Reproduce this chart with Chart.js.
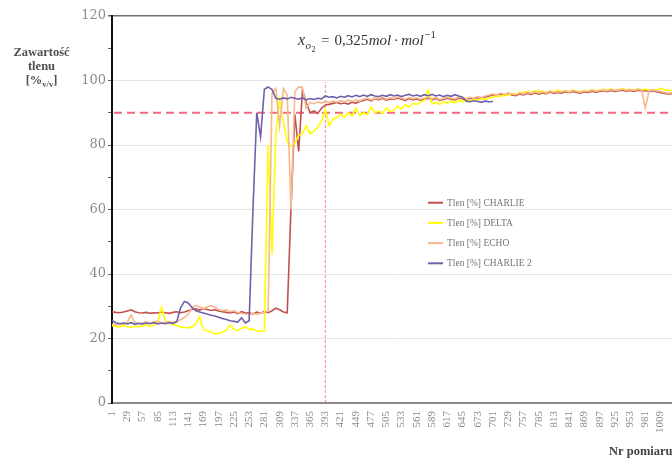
<!DOCTYPE html>
<html>
<head>
<meta charset="utf-8">
<script src="https://cdn.jsdelivr.net/npm/chart.js@4/dist/chart.umd.min.js"></script>
<style>
  html, body { margin: 0; padding: 0; background: #fff; overflow: hidden; }
  canvas { display: block; }
</style>
</head>
<body>
<canvas id="chart" width="672" height="458"></canvas>
<script>
// Oxygen content [%] logged every 7th measurement
const SAMPLE_STEP = 7;

const charlie = [
  28.3, 28.1, 28.0, 28.2, 28.5, 28.9, 28.3, 28.0, 27.9, 28.1, 27.8, 28.0,
  27.9, 28.2, 28.0, 27.8, 28.1, 28.3, 28.0, 28.2, 28.6, 29.0, 29.2, 28.8,
  29.3, 29.0, 28.7, 28.9, 28.5, 28.3, 28.1, 27.9, 28.2, 27.7, 28.3, 27.9,
  28.0, 27.6, 28.2, 27.8, 28.4, 28.0, 28.6, 29.4, 28.9, 28.2, 28.0, 61.0,
  89.5, 78.0, 97.0, 93.0, 90.0, 90.6, 89.8, 91.4, 92.4, 92.6, 92.9, 93.2,
  92.8, 93.0, 92.7, 93.3, 93.0, 93.5, 93.8, 94.2, 93.7, 94.4, 94.0, 94.5,
  93.9, 94.3, 94.1, 94.6, 94.2, 93.8, 94.4, 94.0, 94.3, 93.9, 94.2, 94.5,
  94.0, 94.4, 93.8, 94.1, 94.5, 94.2, 94.0, 94.6, 94.3, 94.1, 94.5, 94.2,
  94.7, 94.4, 94.9, 95.2, 95.6, 95.2, 95.8, 95.4, 95.9, 95.5, 95.3, 95.8,
  95.5, 96.0, 95.7, 96.2, 95.8, 96.1, 95.9, 96.4, 96.0, 96.3, 96.1, 96.5,
  96.2, 96.6, 96.3, 96.1, 96.5, 96.3, 96.7, 96.4, 96.6, 96.8, 96.5, 96.9,
  96.6, 96.8, 97.0, 96.7, 96.9, 96.6, 97.0, 96.8, 96.9, 96.6, 96.8, 96.5,
  96.3, 96.0, 95.8, 95.9
];

const delta = [
  24.0, 23.8, 23.6, 24.0, 23.7, 23.5, 23.8, 23.6, 23.9, 24.2, 23.8, 24.0,
  25.0, 29.6, 25.5, 24.6, 24.4, 24.0, 23.6, 23.4, 23.3, 23.6, 24.5, 26.8,
  22.8, 22.4, 22.0, 21.5, 21.6, 22.0, 22.6, 24.2, 22.8, 22.5, 23.2, 23.6,
  22.8, 23.0, 22.3, 22.2, 22.4, 80.0, 46.0, 83.0, 94.0, 87.0, 81.0, 79.5,
  80.5, 83.0, 83.5, 86.0, 83.5, 84.3, 85.5, 87.4, 91.0, 86.0, 88.0, 88.5,
  89.5, 88.6, 90.0, 89.0, 91.5, 89.2, 90.0, 89.5, 91.8, 90.0, 90.5, 89.8,
  91.5, 90.4, 90.8, 92.0, 91.2, 92.5, 91.8, 93.0, 92.5, 93.3, 93.8, 97.0,
  92.8, 93.2, 92.6, 93.4, 93.0, 93.6, 93.1, 93.8, 93.4, 94.0, 93.6, 94.2,
  93.9, 94.4, 94.1, 94.6, 94.9, 95.3, 95.0, 95.6, 95.4, 96.0, 95.7, 96.3,
  96.2, 96.6, 96.1, 96.9, 96.4, 96.7, 96.2, 96.8, 96.5, 97.0, 96.6, 96.9,
  96.4, 97.1, 96.7, 96.5, 96.9, 96.6, 97.2, 96.8, 97.0, 97.3, 96.9, 97.4,
  97.0, 97.2, 97.5, 97.1, 97.3, 97.0, 97.4, 97.1, 97.3, 97.0, 97.2, 96.9,
  97.6, 97.1, 96.9, 97.0
];

const echo = [
  24.5, 24.2, 24.6, 24.4, 25.0, 27.3, 25.0, 24.6, 24.8, 25.2, 24.9, 25.1,
  25.3, 24.8, 25.0, 25.2, 25.0, 25.3, 25.9, 26.5, 27.5, 29.5, 30.3, 29.8,
  29.3, 29.8, 30.2, 29.6, 29.0, 28.6, 28.9, 28.3, 28.6, 28.0, 27.8, 27.6,
  27.4, 27.8, 27.5, 27.9, 28.1, 28.6, 96.0, 97.5, 86.0, 97.5, 95.5, 60.0,
  96.5, 98.0, 97.8, 91.5, 93.2, 92.8, 93.4, 93.0, 93.5, 93.2, 93.6, 93.3,
  93.7, 93.4, 93.9, 93.5, 94.0, 93.7, 94.2, 94.5, 94.0, 94.6, 94.3, 94.8,
  94.2, 94.6, 94.4, 94.9, 94.5, 94.2, 94.7, 94.3, 94.6, 94.2, 94.5, 94.8,
  94.3, 94.7, 94.1, 94.4, 94.8, 94.5, 94.3, 94.9, 94.6, 94.4, 94.8, 94.5,
  95.0, 94.7, 95.2, 95.5, 95.9, 95.5, 96.1, 95.7, 96.2, 95.8, 95.6, 96.1,
  95.8, 96.3, 96.0, 96.5, 96.1, 96.4, 96.2, 96.7, 96.3, 96.6, 96.4, 96.8,
  96.5, 96.9, 96.6, 96.4, 96.8, 96.6, 97.0, 96.7, 96.9, 97.1, 96.8, 97.2,
  96.9, 97.1, 97.3, 97.0, 97.2, 96.9, 97.3, 97.1, 91.5, 96.9, 97.1, 96.8,
  96.6, 96.3, 96.1, 96.2
];

// CHARLIE 2 was logged only up to measurement no. 701
const charlie2 = [
  25.6, 24.9, 24.6, 24.8, 24.5, 24.9, 24.4, 24.7, 24.5, 24.8, 24.6, 24.9,
  24.5, 24.8, 24.6, 24.9, 24.7, 25.2, 29.5, 31.5, 31.0, 29.6, 28.6, 28.2,
  27.9, 27.6, 27.2, 27.0, 26.6, 26.2, 25.9, 25.5, 25.3, 25.1, 26.4, 24.8,
  25.5, 60.0, 90.0, 82.5, 97.3, 98.0, 97.2, 94.5, 94.2, 94.6, 94.3, 94.8,
  94.5, 94.2, 94.6, 94.0, 94.4, 94.1, 94.5, 94.3, 95.2, 94.8, 95.0, 94.6,
  95.1, 94.8, 95.3, 94.9, 95.4, 95.0, 95.5, 95.1, 95.6, 95.2, 95.0, 95.4,
  95.1, 95.6, 95.2, 95.5, 95.0, 95.4, 95.7, 95.2, 95.5, 95.1, 95.6, 95.3,
  95.7, 95.2, 95.5, 95.0, 95.4, 95.1, 95.6, 95.2, 94.8, 93.6, 93.4, 93.7,
  93.5, 93.3, 93.6, 93.4, 93.5
];

const tickLabels = [
  1, 29, 57, 85, 113, 141, 169, 197, 225, 253, 281, 309, 337, 365, 393, 421,
  449, 477, 505, 533, 561, 589, 617, 645, 673, 701, 729, 757, 785, 813, 841,
  869, 897, 925, 953, 981, 1009
];

const seriesLabels = ['Tlen [%] CHARLIE', 'Tlen [%] DELTA', 'Tlen [%] ECHO', 'Tlen [%] CHARLIE 2'];
const seriesColors = ['#c0504d', '#ffff00', '#f7b88c', '#7060a8'];

const threshold = 90;      // required oxygen content
const markerNr = 393;      // measurement number marked with the vertical line
const markerTop = 99.5;

// measurement number of every logged sample
const measurementNr = Array.from({ length: charlie.length }, (_, i) => 1 + SAMPLE_STEP * i);

const SERIF = '"Liberation Serif", "DejaVu Serif", serif';
Chart.defaults.font.family = SERIF;

// threshold line and the vertical marker
const refLines = {
  id: 'refLines',
  beforeDatasetsDraw(chart) {
    const { ctx, chartArea: a, scales: { x, y } } = chart;
    ctx.save();
    const yp = y.getPixelForValue(threshold);
    ctx.strokeStyle = '#ee6a84';
    ctx.lineWidth = 1.8;
    ctx.setLineDash([8, 5]);
    ctx.beginPath();
    ctx.moveTo(a.left + 2, yp);
    ctx.lineTo(a.right, yp);
    ctx.stroke();

    const xp = x.getPixelForValue(measurementNr.indexOf(markerNr));
    ctx.strokeStyle = 'rgba(236,110,110,0.85)';
    ctx.lineWidth = 1;
    ctx.setLineDash([3, 2]);
    ctx.beginPath();
    ctx.moveTo(xp, y.getPixelForValue(0));
    ctx.lineTo(xp, y.getPixelForValue(markerTop));
    ctx.stroke();
    ctx.restore();
  }
};

// legend placed inside the plot
const innerLegend = {
  id: 'innerLegend',
  afterDatasetsDraw(chart) {
    const ctx = chart.ctx;
    ctx.save();
    ctx.font = '9.5px ' + SERIF;
    ctx.fillStyle = '#747474';
    ctx.textBaseline = 'middle';
    ctx.textAlign = 'left';
    chart.data.datasets.forEach((ds, k) => {
      const yy = 202.7 + 20.2 * k;
      ctx.strokeStyle = ds.borderColor;
      ctx.lineWidth = 2;
      ctx.beginPath();
      ctx.moveTo(428, yy);
      ctx.lineTo(443, yy);
      ctx.stroke();
      ctx.fillText(ds.label, 447, yy + 0.5);
    });
    ctx.restore();
  }
};

// axis titles and the mole fraction note
const titles = {
  id: 'titles',
  afterDraw(chart) {
    const ctx = chart.ctx;
    ctx.save();
    ctx.textBaseline = 'alphabetic';
    ctx.textAlign = 'left';

    // y axis title
    ctx.fillStyle = '#505050';
    ctx.textAlign = 'center';
    ctx.font = 'bold 12.5px ' + SERIF;
    ctx.fillText('Zawartość', 41.5, 56);
    ctx.fillText('tlenu', 41.5, 70);
    ctx.textAlign = 'left';
    const fMain = 'bold 12.5px ' + SERIF, fSub = 'bold 8.5px ' + SERIF;
    ctx.font = fMain; const w1 = ctx.measureText('[%').width, w3 = ctx.measureText(']').width;
    ctx.font = fSub; const w2 = ctx.measureText('v/v').width;
    let px = 41.5 - (w1 + w2 + w3) / 2;
    ctx.font = fMain; ctx.fillText('[%', px, 84); px += w1;
    ctx.font = fSub; ctx.fillText('v/v', px, 87); px += w2;
    ctx.font = fMain; ctx.fillText(']', px, 84);

    // x axis title
    ctx.fillStyle = '#444';
    ctx.font = 'bold 12.5px ' + SERIF;
    ctx.fillText('Nr pomiaru', 609, 455);

    // x_O2 = 0,325 mol·mol^-1
    ctx.fillStyle = '#333';
    const base = 45;
    ctx.font = 'italic 16px ' + SERIF; ctx.fillText('x', 298, base);
    ctx.font = 'italic 11px ' + SERIF; ctx.fillText('o', 305.5, base + 4);
    ctx.font = '8px ' + SERIF; ctx.fillText('2', 311.5, base + 7);
    ctx.font = '15px ' + SERIF; ctx.fillText('=', 321, base);
    let fx = 334.5;
    ctx.fillText('0,325', fx, base); fx += ctx.measureText('0,325').width + 0.5;
    ctx.font = 'italic 15px ' + SERIF; ctx.fillText('mol', fx, base); fx += ctx.measureText('mol').width + 2.5;
    ctx.font = '15px ' + SERIF; ctx.fillText('·', fx, base); fx += ctx.measureText('·').width + 2.5;
    ctx.font = 'italic 15px ' + SERIF; ctx.fillText('mol', fx, base); fx += ctx.measureText('mol').width + 0.5;
    ctx.font = '11px ' + SERIF; ctx.fillText('−1', fx, base - 7);
    ctx.restore();
  }
};

const seriesData = [charlie, delta, echo, charlie2];
const datasets = seriesData.map((d, k) => ({
  label: seriesLabels[k],
  data: d,
  borderColor: seriesColors[k],
  backgroundColor: seriesColors[k],
  borderWidth: 1.6,
  pointRadius: 0,
  tension: 0,
  fill: false,
  order: seriesData.length - k   // later series drawn on top
}));

new Chart(document.getElementById('chart'), {
  type: 'line',
  data: { labels: measurementNr, datasets },
  options: {
    responsive: false,
    devicePixelRatio: 1,
    animation: false,
    layout: { padding: { top: 16, right: 0, bottom: 0, left: 0 } },
    plugins: { legend: { display: false }, tooltip: { enabled: false } },
    scales: {
      x: {
        type: 'category',
        grid: { display: false, drawTicks: false },
        border: { display: true, color: '#8a8a8a', width: 2 },
        ticks: {
          autoSkip: false,
          minRotation: 90,
          maxRotation: 90,
          padding: 8,
          color: '#8a8a8a',
          font: { size: 11, family: SERIF },
          callback(value) {
            const nr = measurementNr[value];
            return tickLabels.includes(nr) ? String(nr) : '';
          }
        },
        afterFit(s) { s.height = 55; s.paddingLeft = 0; s.paddingRight = 0; }
      },
      y: {
        min: 0,
        max: 120,
        grid: {
          color: c => c.tick.value === 120 ? '#707070' : (c.tick.value % 20 === 0 ? '#e4e4e4' : 'rgba(0,0,0,0)'),
          lineWidth: c => c.tick.value === 120 ? 1.5 : 1,
          tickColor: '#666',
          tickLength: 4,
          drawTicks: true
        },
        border: { display: true, color: '#111', width: 2 },
        ticks: {
          stepSize: 10,
          autoSkip: false,
          padding: 2,
          color: '#8c8c8c',
          font: { size: 13, family: '"DejaVu Serif", serif' },
          callback: v => v % 20 === 0 ? v : ''
        },
        afterFit(s) { s.width = 112; s.paddingTop = 0; s.paddingBottom = 0; }
      }
    }
  },
  plugins: [refLines, innerLegend, titles]
});
</script>
</body>
</html>
